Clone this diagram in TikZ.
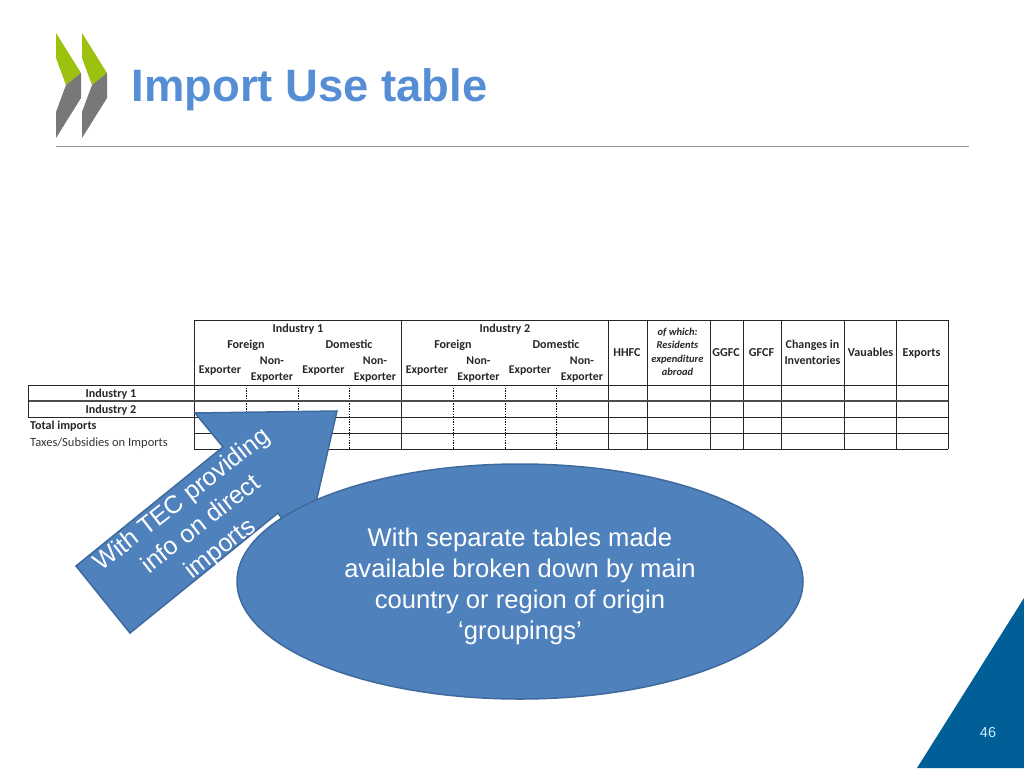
\documentclass[tikz,border=0pt]{standalone}
\usepackage{fontspec}
\usetikzlibrary{shapes.geometric}
\setmainfont{Liberation Sans}
\newfontfamily\carl{Carlito}
\definecolor{shapefill}{HTML}{4F81BD}
\definecolor{shapeline}{HTML}{3F6A9E}
\definecolor{titleblue}{HTML}{558ED5}
\definecolor{cornerblue}{HTML}{005F96}
\definecolor{logogreen}{HTML}{9DC10F}
\definecolor{logogray}{HTML}{787878}
\tikzset{
  x=1pt,y=-1pt,
  rule/.style={line width=1pt,black!85},
  dotrule/.style={line width=1pt,black,dash pattern=on 1.4pt off 1.2pt},
  cell/.style={font=\carl\fontsize{12.1}{13}\selectfont\bfseries,inner sep=0pt,anchor=base,text=black!85},
  expcell/.style={font=\carl\fontsize{11.8}{16}\selectfont\bfseries,inner sep=0pt,anchor=base,text=black!85},
  twoline/.style={font=\carl\fontsize{11.8}{16}\selectfont\bfseries,inner sep=0pt,anchor=center,align=center,text=black!85},
  plain/.style={font=\carl\fontsize{12.5}{14}\selectfont,inner sep=0pt,anchor=base west,text=black!80},
  ital/.style={font=\carl\fontsize{10.5}{13.5}\selectfont\bfseries\itshape,inner sep=0pt,anchor=center,text=black!85,align=center},
  blob/.style={fill=shapefill,draw=shapeline,line width=1.5pt,line join=miter},
}
\begin{document}
\begin{tikzpicture}
\useasboundingbox (0,0) rectangle (1024,768);
% logo
\foreach \d in {0,26}{
  \fill[logogreen] (56+\d,33) -- (81+\d,73) -- (66+\d,85) -- (56+\d,58) -- cycle;
  \fill[logogray] (81+\d,73) -- (81+\d,98) -- (56+\d,138) -- (56+\d,112) -- (66+\d,85) -- cycle;
}
\node[font=\fontsize{45.4}{50}\selectfont\bfseries,text=titleblue,inner sep=0pt,anchor=base west] (title) at (131.5,101) {Import Use table};
\draw[line width=0.9pt,black!40] (56,146.5) -- (969,146.5);
% table
\foreach \xx in {194,401,608,647,710,743,781,844,896,948}
  \draw[rule] (\xx,320) -- (\xx,449);
\foreach \xx in {246,298,349,453,505,556}
  \draw[dotrule] (\xx,385) -- (\xx,449);
\draw[rule] (194,320) -- (948,320);
\draw[rule] (28,385) -- (948,385);
\draw[rule,black!70,line width=1.3pt] (28,401) -- (948,401);
\draw[rule] (28,417) -- (948,417);
\draw[rule] (194,433) -- (948,433);
\draw[rule] (194,449) -- (948,449);
\draw[rule] (28,385) -- (28,417);
% headers
\node[cell] (i1) at (298,332) {Industry 1};
\node[cell] (f1) at (246,348.5) {Foreign};
\node[cell] (d1) at (349,348.5) {Domestic};
\node[expcell] (e1) at (220,373) {Exporter};
\node[twoline] (n1) at (272,370) {Non-\\Exporter};
\node[expcell] (e2) at (323.5,373) {Exporter};
\node[twoline] (n2) at (375,370) {Non-\\Exporter};
\node[cell] (i2) at (505,332) {Industry 2};
\node[cell] (f2) at (453,348.5) {Foreign};
\node[cell] (d2) at (556,348.5) {Domestic};
\node[expcell] (e3) at (427,373) {Exporter};
\node[twoline] (n3) at (478.5,370) {Non-\\Exporter};
\node[expcell] (e4) at (530,373) {Exporter};
\node[twoline] (n4) at (582,370) {Non-\\Exporter};
\node[cell] (hhfc) at (627,356) {HHFC};
\node[ital] (ow) at (677.5,352) {of which:\\Residents\\expenditure\\abroad};
\node[cell] (ggfc) at (726,356) {GGFC};
\node[cell] (gfcf) at (761.5,356) {GFCF};
\node[twoline,font=\carl\fontsize{12}{16}\selectfont\bfseries] (chg) at (812.5,352.5) {Changes in\\Inventories};
\node[cell] (vau) at (870.5,356) {Vauables};
\node[cell] (exp) at (921.5,356) {Exports};
\node[cell] (r1) at (111,397.5) {Industry 1};
\node[cell] (r2) at (111,413.5) {Industry 2};
\node[cell,anchor=base west] (r3) at (30,429.5) {Total imports};
\node[plain] (r4) at (30,446) {Taxes/Subsidies on Imports};
% arrow
\draw[blob] (130,633) -- (76,566) -- (223,447) -- (195,413) -- (337,411) -- (312,520) -- (290,530) -- (278,513) -- cycle;
\node[rotate=38,align=center,text=white,inner sep=0pt,font=\fontsize{25}{31}\selectfont] (atext) at (201.5,525) {With TEC providing\\info on direct\\imports};
% ellipse
\node[blob,ellipse,minimum width=566pt,minimum height=235pt,inner sep=0pt] (el) at (520,581.5) {};
\node[align=center,text=white,inner sep=0pt,font=\fontsize{25.6}{31}\selectfont] (etext) at (520,586.5) {With separate tables made\\available broken down by main\\country or region of origin\\‘groupings’};
% corner
\fill[cornerblue] (1024,598) -- (1024,768) -- (917,768) -- cycle;
\node[text=white!80!cyan,inner sep=0pt,font=\fontsize{14.5}{16}\selectfont] (pg) at (988,732.5) {46};
\end{tikzpicture}
\end{document}
